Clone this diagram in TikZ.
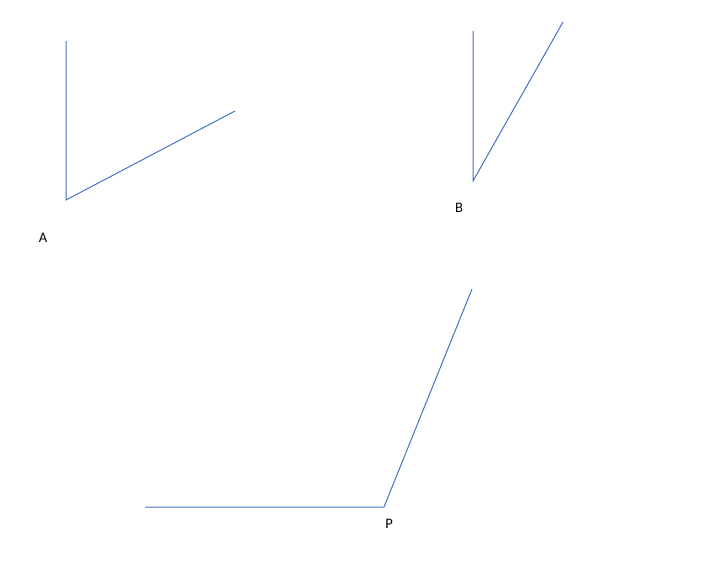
\documentclass[tikz,border=0pt]{standalone}
\usepackage{fontspec}
\setmainfont{Carlito}
\definecolor{lineblue}{HTML}{4472C4}
\begin{document}
\begin{tikzpicture}[x=1pt,y=-1pt,
  ray/.style={draw=lineblue,line width=1pt},
  lbl/.style={font=\fontsize{14.5}{16}\selectfont,inner sep=0pt,text=black}]
\useasboundingbox (0,0) rectangle (701,588);
% angle A
\coordinate (A) at (66,200);
\coordinate (A1) at (66,41);
\coordinate (A2) at (235,111);
\draw[ray] (A1) -- (A) -- (A2);
\node[lbl] (lA) at (43,237.5) {A};
% angle B
\coordinate (B) at (473,181);
\coordinate (B1) at (473,31);
\coordinate (B2) at (563,22);
\draw[ray] (B1) -- (B) -- (B2);
\node[lbl] (lB) at (459,208) {B};
% angle P
\coordinate (P) at (384,507);
\coordinate (P1) at (145,507);
\coordinate (P2) at (472,289);
\draw[ray] (P1) -- (P) -- (P2);
\node[lbl] (lP) at (389,523.5) {P};
\end{tikzpicture}
\end{document}
